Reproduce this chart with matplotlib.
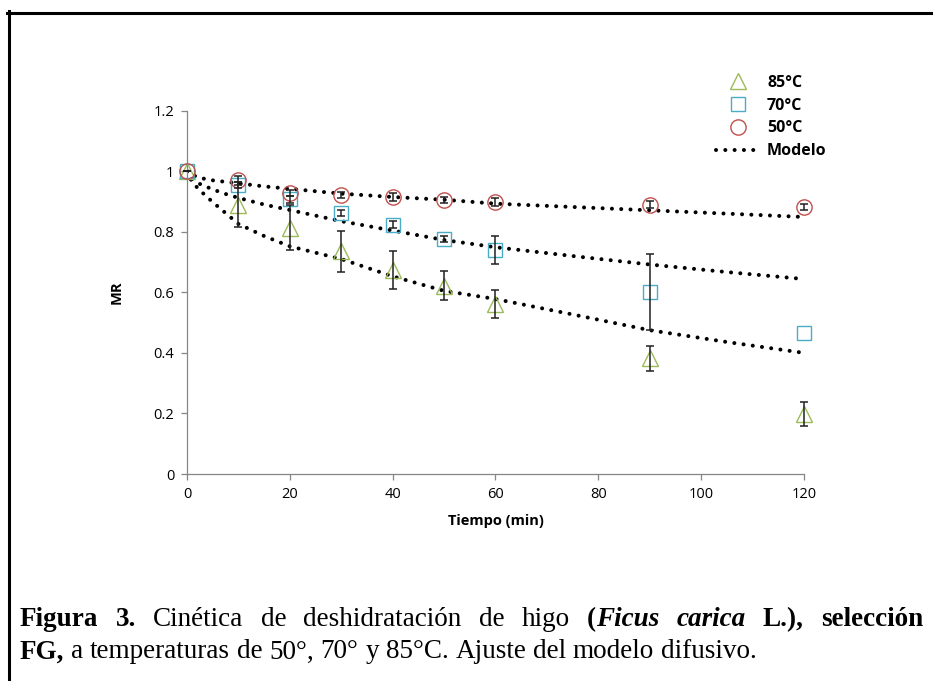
# coding=utf-8
# Cinetica de deshidratacion de higo - MR vs tiempo, con ajuste del modelo difusivo

import numpy as np
import matplotlib
matplotlib.use('Agg')
import matplotlib.pyplot as plt
from matplotlib.lines import Line2D

plt.rcParams['font.family'] = ['Open Sans', 'DejaVu Sans']

# datos experimentales (nan = sin barra de error)
tiempo = [0, 10, 20, 30, 40, 50, 60, 90, 120]
mr_85 = [1.0, 0.89, 0.814, 0.736, 0.673, 0.622, 0.562, 0.382, 0.197]
err_85 = [0.0, 0.075, 0.073, 0.068, 0.063, 0.048, 0.047, 0.042, 0.04]
mr_70 = [1.0, 0.956, 0.907, 0.863, 0.823, 0.777, 0.741, 0.602, 0.467]
err_70 = [0.0, 0.01, 0.012, 0.01, 0.012, 0.01, 0.046, 0.125, np.nan]
mr_50 = [1.0, 0.97, 0.928, 0.923, 0.915, 0.906, 0.898, 0.89, 0.882]
err_50 = [0.0, 0.015, 0.01, 0.01, 0.012, 0.01, 0.012, 0.012, 0.01]

# modelo difusivo
t_mod = [0, 1, 2.5, 5, 7.5, 10, 15, 20, 30, 40, 50, 60, 75, 90, 105, 120]
mod_85 = [1.0, 0.964, 0.937, 0.898, 0.862, 0.826, 0.786, 0.752, 0.71, 0.653,
          0.605, 0.578, 0.527, 0.475, 0.436, 0.40]
mod_70 = [1.0, 0.975, 0.958, 0.94, 0.925, 0.912, 0.89, 0.872, 0.835, 0.804,
          0.773, 0.749, 0.72, 0.692, 0.667, 0.644]
mod_50 = [1.0, 0.988, 0.978, 0.97, 0.965, 0.96, 0.95, 0.942, 0.926, 0.915,
          0.906, 0.893, 0.882, 0.871, 0.86, 0.849]

yticks = [0, 0.2, 0.4, 0.6, 0.8, 1.0, 1.2]
ytick_labels = ['0', '0.2', '0.4', '0.6', '0.8', '1', '1.2']
xticks = [0, 20, 40, 60, 80, 100, 120]

c85 = '#9BBB59'
c70 = '#4BACC6'
c50 = '#C0504D'
gris = '#868686'

W, H = 933, 681
fig = plt.figure(figsize=(W / 100, H / 100), dpi=100)

ax = fig.add_axes([187 / W, (H - 474) / H, 617 / W, 363.3 / H])

punteado = dict(color='black', linewidth=2.9, linestyle=(0, (0.01, 2.3)),
                dash_capstyle='round')
for m in (mod_85, mod_70, mod_50):
    ax.plot(t_mod, m, zorder=2, **punteado)

for y, e in ((mr_85, err_85), (mr_70, err_70), (mr_50, err_50)):
    eb = ax.errorbar(tiempo, y, yerr=e, fmt='none', ecolor='#202020',
                     elinewidth=1.1, capsize=3, capthick=1.1, zorder=4)
    for art in eb.lines[1] + eb.lines[2]:
        art.set_clip_on(False)

ax.plot(tiempo, mr_85, '^', ms=11, mfc='none', mec=c85, mew=1, zorder=3,
        clip_on=False)
ax.plot(tiempo, mr_70, 's', ms=10, mfc='none', mec=c70, mew=1, zorder=3,
        clip_on=False)
ax.plot(tiempo, mr_50, 'o', ms=11, mfc='none', mec=c50, mew=1, zorder=3,
        clip_on=False)

ax.set_xlim(0, 120)
ax.set_ylim(0, 1.2)
ax.set_xticks(xticks)
ax.set_yticks(yticks)
ax.set_yticklabels(ytick_labels)
for s in ('top', 'right'):
    ax.spines[s].set_visible(False)
for s in ('left', 'bottom'):
    ax.spines[s].set_color(gris)
    ax.spines[s].set_linewidth(0.9)
ax.tick_params(direction='out', length=4, width=0.9, color=gris,
               labelsize=10.5, pad=5)

ax.set_xlabel('Tiempo (min)', fontsize=10.5, fontweight='bold')
ax.xaxis.set_label_coords(0.5, -0.11)
ax.set_ylabel('MR', fontsize=10.5, fontweight='bold')
ax.yaxis.set_label_coords(-0.103, 0.5)

handles = [
    Line2D([], [], marker='^', ms=11, mfc='none', mec=c85, mew=1, ls='none'),
    Line2D([], [], marker='s', ms=10, mfc='none', mec=c70, mew=1, ls='none'),
    Line2D([], [], marker='o', ms=11, mfc='none', mec=c50, mew=1, ls='none'),
    Line2D([], [], **punteado),
]
labels = ['85°C', '70°C', '50°C', 'Modelo']
leg = ax.legend(handles, labels, loc='upper left',
                bbox_to_anchor=(716 / W, 1 - 75 / H), bbox_transform=fig.transFigure,
                frameon=False, borderpad=0, borderaxespad=0, handlelength=2.7,
                handletextpad=0.5, labelspacing=0.42,
                prop={'weight': 'bold', 'size': 11.5})

# marco de la figura
fig.add_artist(Line2D([8.5 / W, 8.5 / W], [0, 1 - 11 / H], color='black',
                      lw=2.2, transform=fig.transFigure))
fig.add_artist(Line2D([7.5 / W, 1], [1 - 12.5 / H, 1 - 12.5 / H], color='black',
                      lw=2.2, transform=fig.transFigure))

# pie de figura (texto justificado)
serif = ['Liberation Serif', 'DejaVu Serif']
N = dict(family=serif, weight='normal', style='normal')
B = dict(family=serif, weight='bold', style='normal')
BI = dict(family=serif, weight='bold', style='italic')

linea1 = [[('Figura', B)], [('3.', B)], [('Cinética', N)], [('de', N)],
          [('deshidratación', N)], [('de', N)], [('higo', N)],
          [('(', B), ('Ficus', BI)], [('carica', BI)], [('L.),', B)],
          [('selección', B)]]
linea2 = [[('FG,', B)], [('a', N)], [('temperaturas', N)], [('de', N)],
          [('50°,', N)], [('70°', N)], [('y', N)], [('85°C.', N)],
          [('Ajuste', N)], [('del', N)], [('modelo', N)], [('difusivo.', N)]]

fs_pie = 19.5
renderer = fig.canvas.get_renderer()


def escribir(palabras, y, x0, x1=None):
    grupos = []
    for palabra in palabras:
        partes = []
        for texto, estilo in palabra:
            t = fig.text(0, y / H, texto, fontsize=fs_pie, va='center',
                         ha='left', transform=fig.transFigure, **estilo)
            w = t.get_window_extent(renderer).width
            partes.append((t, w))
        grupos.append(partes)
    anchos = [sum(w for _, w in g) for g in grupos]
    hueco = 0.25 * fs_pie * 100 / 72
    if x1 is not None:
        hueco = (x1 - x0 - sum(anchos)) / (len(grupos) - 1)
    x = x0
    for g in grupos:
        for t, w in g:
            t.set_x(x / W)
            x += w
        x += hueco


escribir(linea1, H - 620, 20, 923)
escribir(linea2, H - 652, 20)

fig.savefig('out.png', dpi=100)
